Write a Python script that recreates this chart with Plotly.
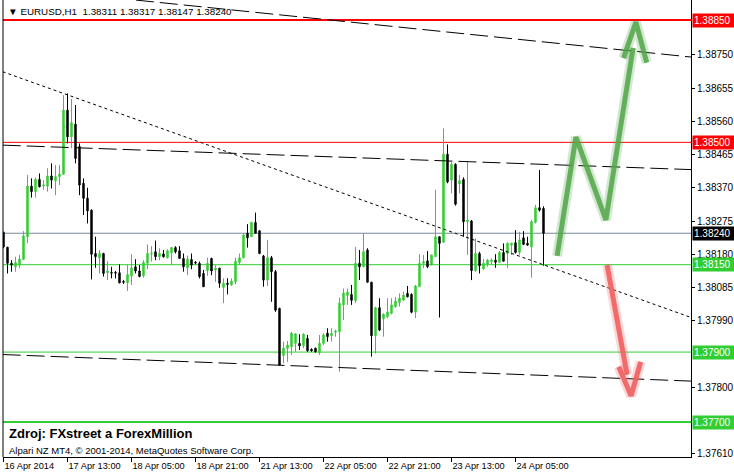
import plotly.graph_objects as go

# ---------------- data ----------------
bar_index = list(range(136))

opens = [1.38243,1.38200,1.38154,1.38144,1.38149,1.38165,1.38230,1.38375,1.38359,1.38394,
         1.38375,1.38375,1.38404,1.38390,1.38402,1.38409,1.38592,1.38516,1.38552,1.38488,
         1.38383,1.38340,1.38306,1.38182,1.38170,1.38182,1.38127,1.38128,1.38128,1.38127,
         1.38102,1.38098,1.38118,1.38144,1.38132,1.38118,1.38154,1.38181,1.38187,1.38173,
         1.38181,1.38170,1.38184,1.38199,1.38190,1.38168,1.38141,1.38165,1.38157,1.38154,
         1.38125,1.38133,1.38168,1.38135,1.38140,1.38085,1.38097,1.38092,1.38101,1.38156,
         1.38170,1.38240,1.38230,1.38271,1.38247,1.38175,1.38106,1.38170,1.38130,1.38025,
         1.37890,1.37911,1.37915,1.37925,1.37925,1.37918,1.37939,1.37908,1.37911,1.37898,
         1.37925,1.37954,1.37947,1.37957,1.37958,1.38035,1.38062,1.38065,1.38047,1.38154,
         1.38144,1.38192,1.38100,1.37947,1.38027,1.37995,1.38001,1.38011,1.38030,1.38042,
         1.38049,1.38068,1.38065,1.38014,1.38087,1.38154,1.38161,1.38149,1.38173,1.38230,
         1.38214,1.38466,1.38392,1.38437,1.38381,1.38394,1.38273,1.38275,1.38133,1.38182,
         1.38138,1.38152,1.38159,1.38163,1.38157,1.38185,1.38182,1.38206,1.38213,1.38185,
         1.38227,1.38211,1.38201,1.38271,1.38313,1.38311]

highs = [1.38244,1.38201,1.38163,1.38173,1.38178,1.38246,1.38407,1.38397,1.38399,1.38411,
         1.38392,1.38426,1.38440,1.38435,1.38435,1.38635,1.38640,1.38624,1.38607,1.38497,
         1.38397,1.38370,1.38308,1.38230,1.38192,1.38184,1.38160,1.38144,1.38132,1.38151,
         1.38106,1.38149,1.38180,1.38166,1.38149,1.38163,1.38208,1.38203,1.38219,1.38197,
         1.38192,1.38194,1.38201,1.38203,1.38203,1.38182,1.38176,1.38182,1.38160,1.38159,
         1.38135,1.38170,1.38170,1.38149,1.38141,1.38111,1.38111,1.38111,1.38170,1.38182,
         1.38240,1.38266,1.38273,1.38299,1.38247,1.38178,1.38221,1.38175,1.38135,1.38027,
         1.37930,1.37932,1.37958,1.37954,1.37951,1.37954,1.37949,1.37911,1.37913,1.37949,
         1.37954,1.37968,1.37968,1.37964,1.38056,1.38082,1.38082,1.38092,1.38201,1.38192,
         1.38240,1.38197,1.38101,1.38030,1.38054,1.38011,1.38054,1.38054,1.38058,1.38068,
         1.38073,1.38089,1.38068,1.38092,1.38180,1.38178,1.38189,1.38178,1.38364,1.38230,
         1.38540,1.38494,1.38443,1.38440,1.38407,1.38400,1.38445,1.38278,1.38225,1.38187,
         1.38166,1.38166,1.38168,1.38180,1.38189,1.38211,1.38214,1.38213,1.38249,1.38244,
         1.38246,1.38230,1.38278,1.38321,1.38421,1.38317]

lows = [1.38197,1.38125,1.38130,1.38130,1.38140,1.38163,1.38211,1.38342,1.38342,1.38371,
        1.38364,1.38359,1.38368,1.38349,1.38378,1.38407,1.38497,1.38483,1.38440,1.38349,
        1.38292,1.38268,1.38108,1.38141,1.38125,1.38116,1.38106,1.38111,1.38111,1.38097,
        1.38095,1.38075,1.38092,1.38125,1.38114,1.38113,1.38137,1.38159,1.38163,1.38163,
        1.38170,1.38168,1.38149,1.38182,1.38168,1.38130,1.38120,1.38137,1.38151,1.38111,
        1.38087,1.38118,1.38120,1.38101,1.38084,1.38040,1.38065,1.38090,1.38094,1.38149,
        1.38168,1.38199,1.38230,1.38240,1.38180,1.38087,1.38089,1.38044,1.38015,1.37861,
        1.37868,1.37872,1.37892,1.37901,1.37906,1.37911,1.37901,1.37901,1.37899,1.37892,
        1.37920,1.37930,1.37930,1.37944,1.37844,1.37992,1.38035,1.38035,1.38040,1.38106,
        1.38144,1.38098,1.37887,1.37896,1.37960,1.37944,1.37997,1.38008,1.38027,1.38030,
        1.38046,1.38057,1.38011,1.37997,1.38087,1.38140,1.38140,1.38149,1.38173,1.37999,
        1.38214,1.38383,1.38354,1.38319,1.38354,1.38230,1.38178,1.38106,1.38130,1.38125,
        1.38135,1.38144,1.38151,1.38141,1.38157,1.38159,1.38141,1.38178,1.38182,1.38178,
        1.38206,1.38204,1.38113,1.38268,1.38302,1.38147]

closes = [1.38201,1.38154,1.38149,1.38156,1.38166,1.38232,1.38375,1.38359,1.38394,1.38373,
          1.38378,1.38404,1.38392,1.38402,1.38409,1.38592,1.38516,1.38556,1.38454,1.38378,
          1.38340,1.38304,1.38180,1.38173,1.38182,1.38125,1.38132,1.38126,1.38126,1.38098,
          1.38100,1.38122,1.38141,1.38132,1.38116,1.38156,1.38182,1.38183,1.38173,1.38182,
          1.38173,1.38190,1.38199,1.38187,1.38168,1.38144,1.38166,1.38149,1.38155,1.38116,
          1.38087,1.38154,1.38132,1.38140,1.38097,1.38097,1.38094,1.38103,1.38160,1.38170,
          1.38235,1.38227,1.38271,1.38240,1.38182,1.38106,1.38170,1.38130,1.38020,1.37863,
          1.37911,1.37920,1.37954,1.37952,1.37918,1.37951,1.37904,1.37904,1.37901,1.37925,
          1.37949,1.37944,1.37954,1.37960,1.38040,1.38069,1.38072,1.38048,1.38154,1.38144,
          1.38187,1.38100,1.37947,1.38027,1.37963,1.38008,1.38015,1.38035,1.38046,1.38054,
          1.38063,1.38058,1.38014,1.38089,1.38154,1.38159,1.38144,1.38178,1.38230,1.38211,
          1.38466,1.38387,1.38437,1.38323,1.38390,1.38273,1.38278,1.38133,1.38182,1.38147,
          1.38154,1.38163,1.38163,1.38157,1.38185,1.38160,1.38211,1.38211,1.38185,1.38221,
          1.38208,1.38206,1.38273,1.38313,1.38306,1.38240]

time_tick_index = [0, 16, 32, 48, 64, 80, 96, 112, 128]
time_tick_labels = ["16 Apr 2014", "17 Apr 13:00", "18 Apr 05:00", "18 Apr 21:00",
                    "21 Apr 13:00", "22 Apr 05:00", "22 Apr 21:00", "23 Apr 13:00",
                    "24 Apr 05:00"]

price_ticks = [1.38750, 1.38655, 1.38560, 1.38465, 1.38370, 1.38275, 1.38180,
               1.38085, 1.37990, 1.37800, 1.37610]

# horizontal levels
levels_price = [1.38850, 1.38500, 1.38240, 1.38150, 1.37900, 1.37700]
levels_line_color = ["#FF0000", "#FF0000", "#778899", "#32CD32", "#32CD32", "#32CD32"]
levels_line_width = [2, 1, 1, 1, 1, 2]
levels_label_bg = ["#FF0000", "#FF0000", "#000000", "#32CD32", "#32CD32", "#32CD32"]

# trend lines: (x0, y0, x1, y1) in bar index / price
trend_top = [33.1, 1.38907, 171.9, 1.38744]
trend_channel_up = [-0.2, 1.38492, 171.9, 1.38422]
trend_channel_low = [-0.2, 1.37893, 171.9, 1.37817]
trend_diag = [-0.2, 1.38702, 171.9, 1.37999]

# hand-drawn arrows (bar index, price)
green_arrow_x = [138.4, 143.1, 150.6, 157.4]
green_arrow_y = [1.38175, 1.38515, 1.38278, 1.38770]
green_head_x = [155.0, 158.1, 160.8]
green_head_y = [1.38741, 1.38844, 1.38728]
red_arrow_x = [150.9, 155.9]
red_arrow_y = [1.38149, 1.37835]
red_head_x = [153.8, 156.9, 159.3]
red_head_y = [1.37858, 1.37775, 1.37872]

# ---------------- figure ----------------
FONT = "Liberation Sans, Arial, sans-serif"
fig = go.Figure()

fig.add_trace(go.Candlestick(
    x=bar_index, open=opens, high=highs, low=lows, close=closes,
    increasing=dict(line=dict(color="#32CD32", width=1), fillcolor="#32CD32"),
    decreasing=dict(line=dict(color="#000000", width=1), fillcolor="#000000"),
    whiskerwidth=0, showlegend=False, hoverinfo="skip"))

def add_line(seg, dash):
    fig.add_trace(go.Scatter(x=[seg[0], seg[2]], y=[seg[1], seg[3]], mode="lines",
                             line=dict(color="black", width=1, dash=dash),
                             showlegend=False, hoverinfo="skip"))

add_line(trend_top, "18px,6px")
add_line(trend_channel_up, "18px,6px")
add_line(trend_channel_low, "18px,6px")
add_line(trend_diag, "3px,3px")

# arrows (soft glow underneath + core)
for ax_, ay_, hx, hy, col, glow in [
        (green_arrow_x, green_arrow_y, green_head_x, green_head_y,
         "rgba(80,165,70,0.85)", "rgba(80,165,70,0.25)"),
        (red_arrow_x, red_arrow_y, red_head_x, red_head_y,
         "rgba(240,95,95,0.9)", "rgba(240,95,95,0.25)")]:
    for xs, ys in [(ax_, ay_), (hx, hy)]:
        fig.add_trace(go.Scatter(x=xs, y=ys, mode="lines",
                                 line=dict(color=glow, width=10), showlegend=False, hoverinfo="skip"))
        fig.add_trace(go.Scatter(x=xs, y=ys, mode="lines",
                                 line=dict(color=col, width=5), showlegend=False, hoverinfo="skip"))

shapes = []
for p, c, w in zip(levels_price, levels_line_color, levels_line_width):
    shapes.append(dict(type="line", xref="paper", x0=0, x1=1, yref="y", y0=p, y1=p,
                       line=dict(color=c, width=w), layer="below"))
shapes.append(dict(type="line", xref="paper", x0=0, x1=0, yref="paper", y0=0, y1=1,
                   line=dict(color="black", width=1)))

annotations = []
for p, bg in zip(levels_price, levels_label_bg):
    annotations.append(dict(xref="paper", x=1, xanchor="left", yref="y", y=p, yanchor="middle",
                            text=f"{p:.5f}", showarrow=False, bgcolor=bg, borderpad=1,
                            width=40, align="left", xshift=1,
                            font=dict(family=FONT, size=10, color="white")))

annotations.append(dict(xref="paper", x=0, xanchor="left", yref="paper", y=1, yanchor="middle",
                        yshift=-11, xshift=3, showarrow=False,
                        text="▼ EURUSD,H1  1.38311 1.38317 1.38147 1.38240",
                        font=dict(family=FONT, size=9.8, color="black")))
annotations.append(dict(xref="paper", x=0, xanchor="left", yref="paper", y=0, yanchor="middle",
                        yshift=24, xshift=4, showarrow=False,
                        text="<b>Zdroj: FXstreet a ForexMillion</b>",
                        font=dict(family=FONT, size=13, color="black")))
annotations.append(dict(xref="paper", x=0, xanchor="left", yref="paper", y=0, yanchor="middle",
                        yshift=7, xshift=4, showarrow=False,
                        text="Alpari NZ MT4, © 2001-2014, MetaQuotes Software Corp.",
                        font=dict(family=FONT, size=9.5, color="black")))

fig.update_layout(
    width=734, height=475,
    margin=dict(l=3, r=43, t=0, b=18, autoexpand=False),
    paper_bgcolor="white", plot_bgcolor="white",
    boxgap=0.5,
    shapes=shapes, annotations=annotations,
    xaxis=dict(range=[-0.125, 171.875], tickmode="array", tickvals=time_tick_index,
               ticktext=time_tick_labels, ticks="outside", ticklen=4, tickcolor="black",
               ticklabelposition="outside right", tickangle=0, automargin=False,
               showline=True, linecolor="black", linewidth=1, showgrid=False, zeroline=False,
               rangeslider=dict(visible=False),
               tickfont=dict(family=FONT, size=9.2, color="black")),
    yaxis=dict(range=[1.375999, 1.389072], side="right", tickmode="array",
               tickvals=price_ticks, ticktext=[f"{v:.5f}" for v in price_ticks],
               ticks="outside", ticklen=3, tickcolor="black", automargin=False,
               showline=True, linecolor="black", linewidth=1, showgrid=False, zeroline=False,
               tickfont=dict(family=FONT, size=10, color="black")),
)

fig.write_html("out.html", config={"displayModeBar": False},
               post_script="document.body.style.margin='0px';")
